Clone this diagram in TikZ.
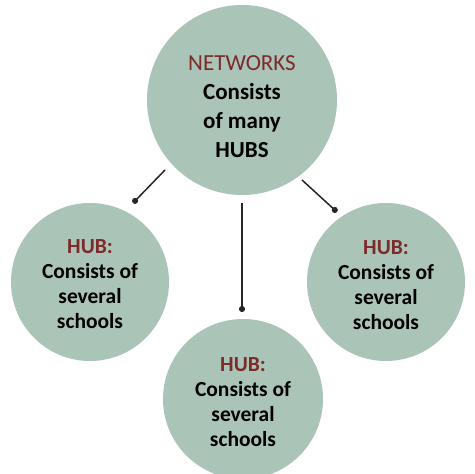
\documentclass[tikz,border=0pt]{standalone}
\usepackage{fontspec}
\setmainfont{Carlito}
\usetikzlibrary{arrows.meta}
\definecolor{sage}{RGB}{170,196,184}
\definecolor{maroon}{RGB}{125,42,42}
\tikzset{
  bubble/.style={circle, fill=sage, draw=none, inner sep=0pt},
  toptext/.style={align=center, font=\fontsize{23}{29}\selectfont\bfseries, text=black},
  hubtext/.style={align=center, font=\fontsize{21.5}{25}\selectfont\bfseries, text=black},
  link/.style={line width=1.5pt, draw=black!85, -{Circle[length=6pt]}},
}
\begin{document}
\begin{tikzpicture}[x=1pt,y=-1pt]
\useasboundingbox (0,0) rectangle (475,474);
\fill[white] (0,0) rectangle (475,474);
\node[bubble, minimum size=190pt] (net) at (242,100) {};
\node[bubble, minimum size=158pt] (hubL) at (90,282) {};
\node[bubble, minimum size=158pt] (hubR) at (386,282) {};
\node[bubble, minimum size=160pt] (hubB) at (243,399) {};
\node[toptext] (nett) at (242,107) {{\mdseries\color{maroon}NETWORKS}\\Consists\\of many\\HUBS};
\node[hubtext] (hubLt) at (90,284) {{\color{maroon}HUB:}\\Consists of\\several\\schools};
\node[hubtext] (hubRt) at (386,285) {{\color{maroon}HUB:}\\Consists of\\several\\schools};
\node[hubtext] (hubBt) at (243,402) {{\color{maroon}HUB:}\\Consists of\\several\\schools};
\coordinate (sL) at (165,170);
\coordinate (eL) at (133,203);
\coordinate (sR) at (302,180);
\coordinate (eR) at (337,212);
\coordinate (sB) at (242,203);
\coordinate (eB) at (242,312);
\draw[link] (sL) -- (eL);
\draw[link] (sR) -- (eR);
\draw[link] (sB) -- (eB);
\end{tikzpicture}
\end{document}
